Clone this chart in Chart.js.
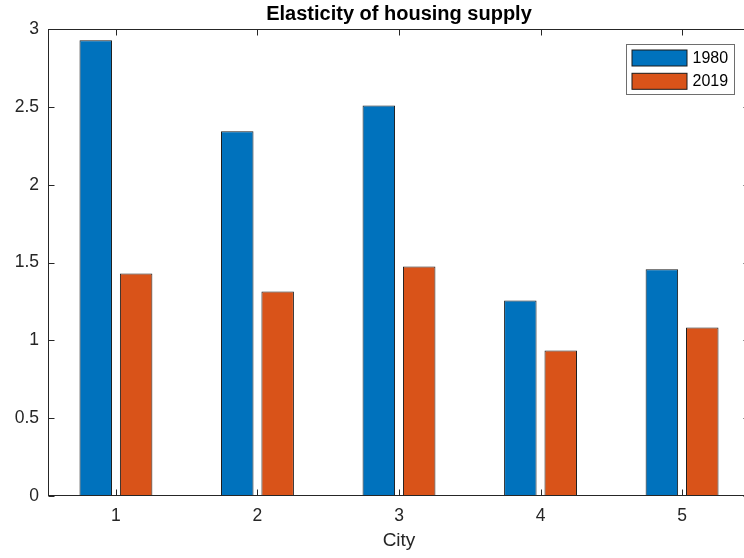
<!DOCTYPE html>
<html>
<head>
<meta charset="utf-8">
<script src="https://cdn.jsdelivr.net/npm/chart.js@4.4.1/dist/chart.umd.min.js"></script>
<style>
  html, body { margin: 0; padding: 0; background: #fff; overflow: hidden; }
  canvas { display: block; }
</style>
</head>
<body>
<canvas id="grafico" width="760" height="558"></canvas>
<script>
const ciudades = [1, 2, 3, 4, 5];
const valores1980 = [2.93, 2.345, 2.51, 1.257, 1.457];
const valores2019 = [1.43, 1.315, 1.476, 0.935, 1.083];
const etiquetasSerie = ['1980', '2019'];
const ticksY = [0, 0.5, 1, 1.5, 2, 2.5, 3];

const fuente = 'Liberation Sans, Arial, sans-serif';
const colorEjes = '#262626';

// Marco de los ejes, ticks hacia dentro y leyenda (estilo MATLAB)
const marco = {
  id: 'marco',
  afterDatasetsDraw(chart) {
    const { ctx, chartArea: a, scales: { x, y } } = chart;
    const L = Math.round(a.left) + 0.5, R = Math.round(a.right) - 0.5;
    const T = Math.round(a.top) + 0.5, B = Math.round(a.bottom) - 0.5;
    ctx.save();
    ctx.strokeStyle = colorEjes;
    ctx.lineWidth = 1;
    ctx.strokeRect(L, T, R - L, B - T);
    ctx.beginPath();
    ciudades.forEach(c => {
      const px = Math.round(x.getPixelForValue(c)) + 0.5;
      ctx.moveTo(px, B); ctx.lineTo(px, B - 6);
      ctx.moveTo(px, T); ctx.lineTo(px, T + 6);
    });
    ticksY.forEach(v => {
      const py = Math.round(y.getPixelForValue(v)) + 0.5;
      ctx.moveTo(L, py); ctx.lineTo(L + 6, py);
      ctx.moveTo(R, py); ctx.lineTo(R - 6, py);
    });
    ctx.stroke();

    // Leyenda
    const bx = Math.round(a.right - 124) + 0.5, by = Math.round(a.top + 15) + 0.5;
    ctx.fillStyle = '#fff';
    ctx.fillRect(bx, by, 108, 50);
    ctx.strokeStyle = '#6e6e6e';
    ctx.strokeRect(bx, by, 108, 50);
    ctx.font = '16px ' + fuente;
    ctx.textBaseline = 'middle';
    chart.data.datasets.forEach((ds, i) => {
      const sy = by + 5.5 + i * 23.3;
      ctx.fillStyle = ds.backgroundColor;
      ctx.fillRect(bx + 5.5, sy, 55, 16);
      ctx.strokeStyle = '#1a1a1a';
      ctx.strokeRect(bx + 5.5, sy, 55, 16);
      ctx.fillStyle = '#000';
      ctx.fillText(ds.label, bx + 66, sy + 8.5);
    });
    ctx.restore();
  }
};

const ctx = document.getElementById('grafico').getContext('2d');
new Chart(ctx, {
  type: 'bar',
  data: {
    datasets: [
      {
        label: etiquetasSerie[0],
        data: ciudades.map((c, i) => ({ x: c, y: valores1980[i] })),
        backgroundColor: '#0072BD',
        borderColor: '#1a1a1a',
        borderWidth: 1,
        borderSkipped: false
      },
      {
        label: etiquetasSerie[1],
        data: ciudades.map((c, i) => ({ x: c, y: valores2019[i] })),
        backgroundColor: '#D95319',
        borderColor: '#1a1a1a',
        borderWidth: 1,
        borderSkipped: false
      }
    ]
  },
  options: {
    responsive: false,
    animation: false,
    categoryPercentage: 0.571,
    barPercentage: 0.804,
    layout: { padding: { left: 0, right: 10, top: 0, bottom: 0 } },
    plugins: {
      legend: { display: false },
      tooltip: { enabled: false },
      title: {
        display: true,
        text: 'Elasticity of housing supply',
        fullSize: false,
        color: '#000',
        font: { family: fuente, size: 20, weight: 'bold' },
        padding: { top: 2.5, bottom: 2.8 }
      }
    },
    scales: {
      x: {
        type: 'linear',
        offset: false,
        min: 0.52,
        max: 5.48,
        grid: { display: false, drawTicks: false },
        border: { display: false },
        ticks: { stepSize: 1, includeBounds: false, padding: 10, color: colorEjes, font: { family: fuente, size: 17.5 } },
        title: { display: true, text: 'City', color: colorEjes, font: { family: fuente, size: 19 }, padding: { top: 0, bottom: 5.5 } },
        afterFit(s) { s.height = 62; }
      },
      y: {
        min: 0,
        max: 3,
        grid: { display: false, drawTicks: false },
        border: { display: false },
        ticks: { stepSize: 0.5, padding: 9, color: colorEjes, font: { family: fuente, size: 17.5 }, callback: v => String(v) },
        afterFit(s) { s.width = 48; }
      }
    }
  },
  plugins: [marco]
});
</script>
</body>
</html>
